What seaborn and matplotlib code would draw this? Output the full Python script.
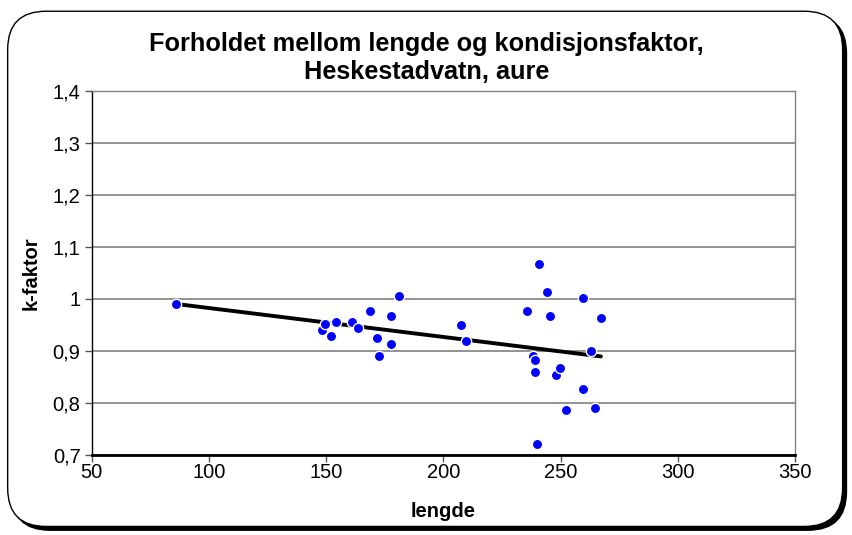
import numpy as np
import pandas as pd
import matplotlib
matplotlib.use("Agg")
import matplotlib.pyplot as plt
import seaborn as sns
from matplotlib.patches import FancyBboxPatch
from matplotlib.ticker import FuncFormatter, MultipleLocator

# lengde (mm) og k-faktor
lengde = [86.1, 148.4, 149.5, 152.0, 154.4, 161.2, 163.7, 168.9, 171.6, 172.4,
          177.6, 177.6, 181.0, 207.7, 209.8, 235.6, 238.1, 239.0, 239.0, 239.8,
          240.7, 244.1, 245.7, 248.2, 249.9, 252.5, 259.5, 259.5, 262.9, 264.6,
          267.2]
kfaktor = [0.990, 0.940, 0.952, 0.929, 0.956, 0.956, 0.944, 0.976, 0.925, 0.890,
           0.968, 0.914, 1.006, 0.950, 0.919, 0.976, 0.891, 0.883, 0.860, 0.722,
           1.068, 1.014, 0.967, 0.853, 0.868, 0.787, 1.002, 0.826, 0.900, 0.791,
           0.964]

df = pd.DataFrame({"lengde": lengde, "kfaktor": kfaktor})

sns.set_style("white")
plt.rcParams["font.family"] = ["Liberation Sans", "DejaVu Sans"]
plt.rcParams["text.color"] = "black"
plt.rcParams["axes.labelcolor"] = "black"
plt.rcParams["xtick.labelcolor"] = "black"
plt.rcParams["ytick.labelcolor"] = "black"

fig = plt.figure(figsize=(8.52, 5.35), dpi=100)

# rounded chart frame with shadow
shadow = FancyBboxPatch((0.0135, 0.009), 0.980, 0.963, boxstyle="round,pad=0,rounding_size=0.045",
                        transform=fig.transFigure, facecolor="black", edgecolor="black",
                        zorder=0, mutation_aspect=852 / 535)
frame = FancyBboxPatch((0.009, 0.016), 0.980, 0.963, boxstyle="round,pad=0,rounding_size=0.045",
                       transform=fig.transFigure, facecolor="white", edgecolor="black",
                       linewidth=1.0, zorder=1, mutation_aspect=852 / 535)
fig.patches.extend([shadow, frame])

ax = fig.add_axes([0.1076, 0.1495, 0.8255, 0.6805])
ax.set_zorder(2)

ax.grid(axis="y", color="#808080", linewidth=1.2)
ax.set_axisbelow(True)

sns.regplot(data=df, x="lengde", y="kfaktor", scatter=False, ci=None, truncate=True,
            line_kws={"color": "black", "linewidth": 2.8}, ax=ax)
sns.scatterplot(data=df, x="lengde", y="kfaktor", color="#0000FF", s=55,
                edgecolor="white", linewidth=1.0, zorder=3, ax=ax)

ax.set_xlim(50, 350)
ax.set_ylim(0.7, 1.4)
ax.xaxis.set_major_locator(MultipleLocator(50))
ax.yaxis.set_major_locator(MultipleLocator(0.1))
ax.yaxis.set_major_formatter(FuncFormatter(lambda v, p: f"{v:.1f}".rstrip("0").rstrip(".").replace(".", ",")))

for side in ["top", "right"]:
    ax.spines[side].set_color("#808080")
    ax.spines[side].set_linewidth(1.0)
ax.spines["left"].set_color("black")
ax.spines["left"].set_linewidth(1.0)
ax.spines["bottom"].set_color("black")
ax.spines["bottom"].set_linewidth(2.0)

ax.tick_params(axis="both", direction="out", length=5, width=1, color="#555555",
               labelsize=14.5, bottom=True, left=True)
ax.tick_params(axis="x", pad=1)
ax.tick_params(axis="y", pad=3)

ax.set_xlabel("lengde", fontsize=14.5, fontweight="bold", labelpad=14)
ax.set_ylabel("k-faktor", fontsize=14.5, fontweight="bold", labelpad=9)

fig.text(0.501, 0.891, "Forholdet mellom lengde og kondisjonsfaktor,\nHeskestadvatn, aure",
         ha="center", va="center", fontsize=18.2, fontweight="bold", linespacing=1.2)

fig.savefig("out.png", dpi=100)
